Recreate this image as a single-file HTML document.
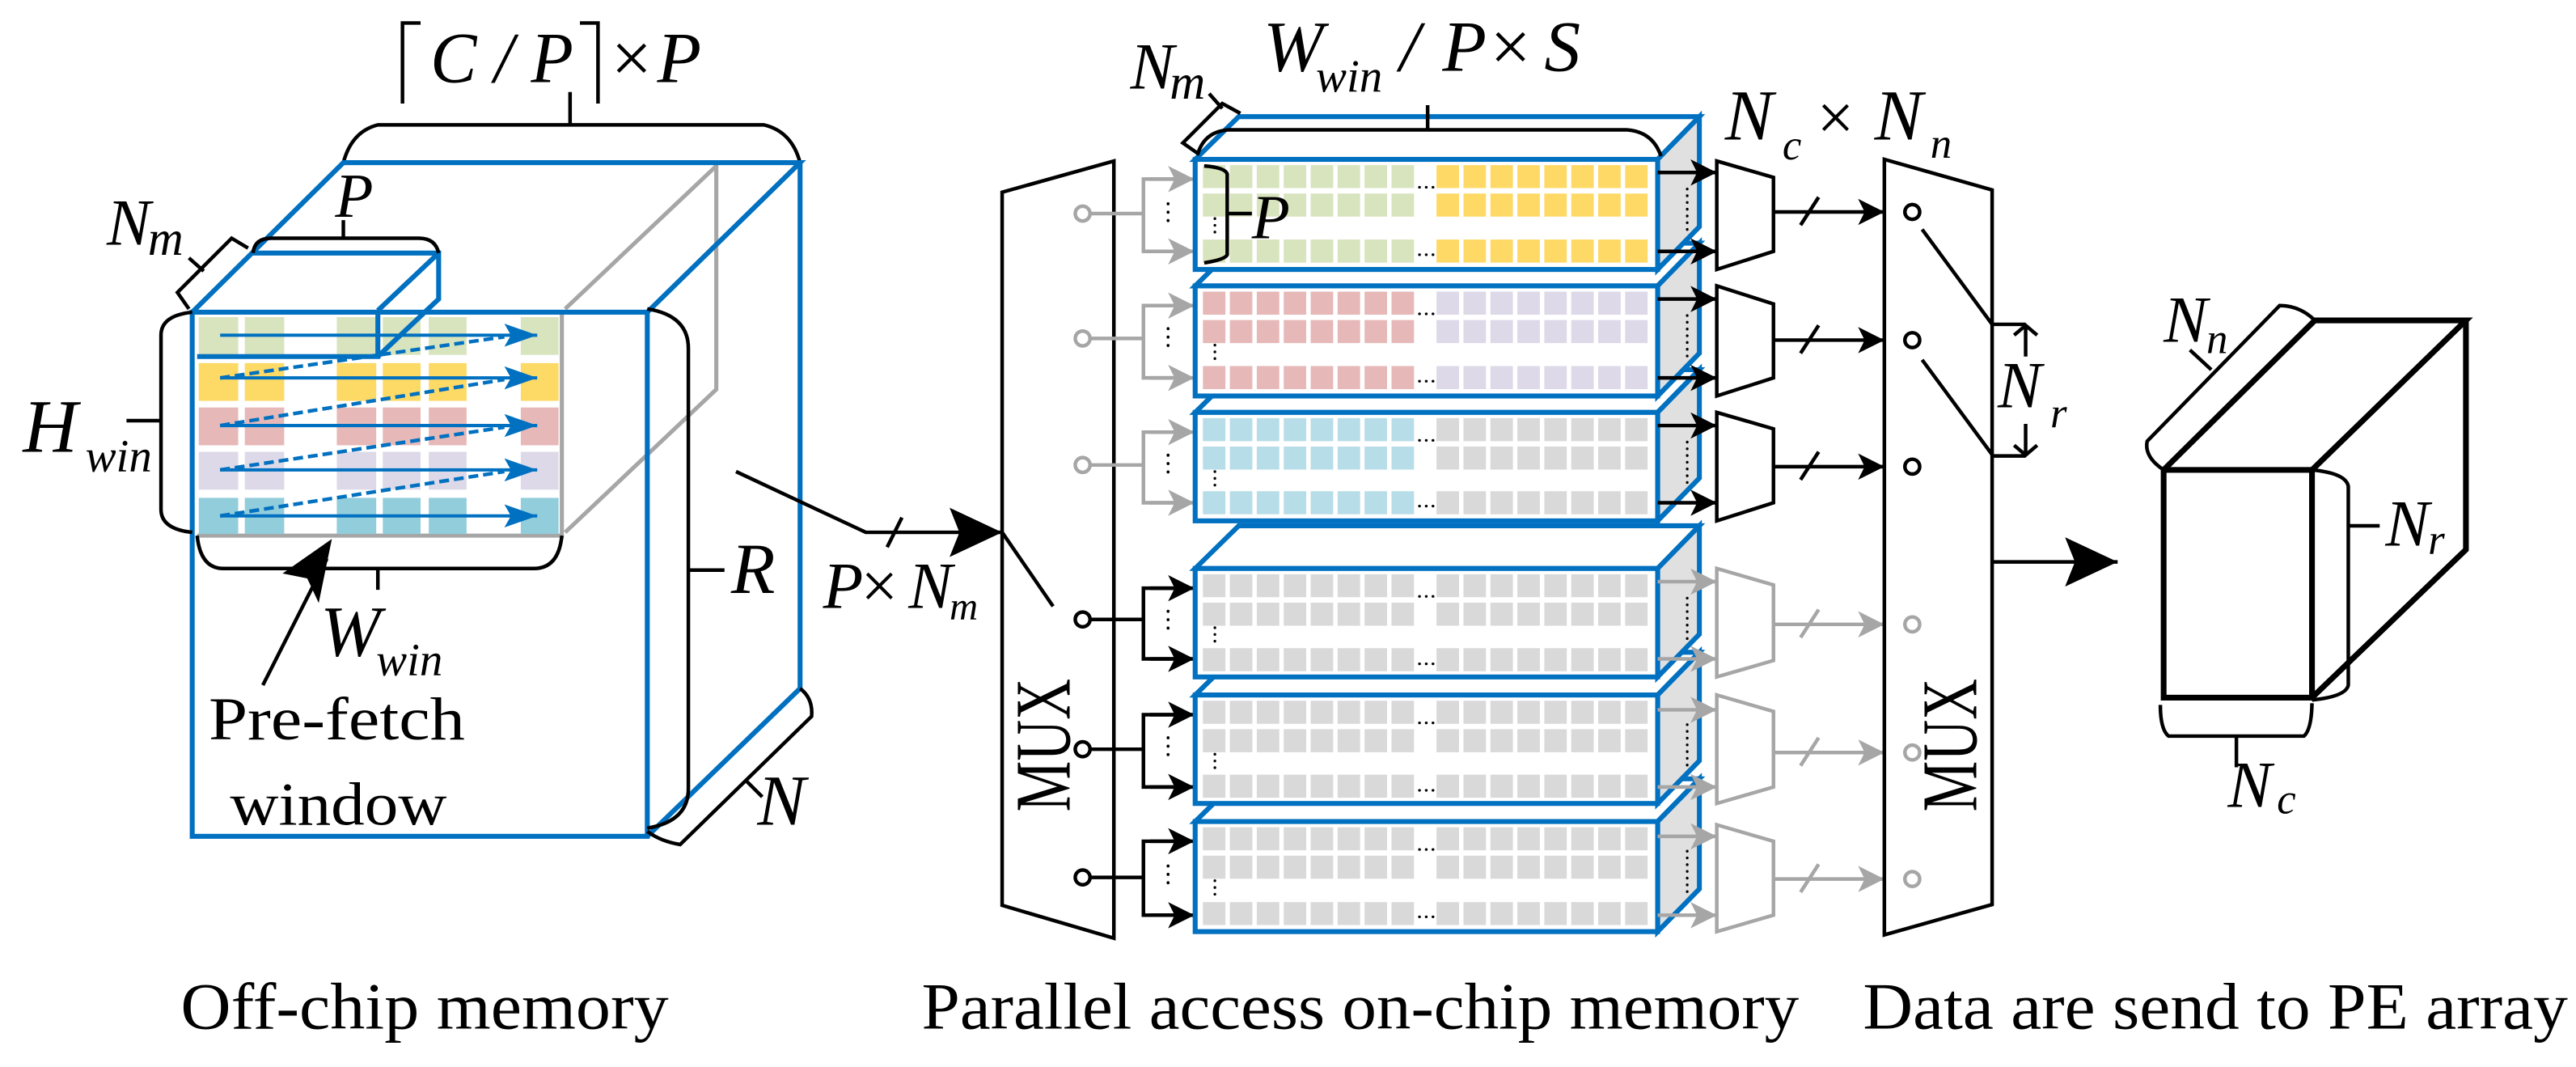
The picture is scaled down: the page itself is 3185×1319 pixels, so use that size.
<!DOCTYPE html>
<html><head><meta charset="utf-8"><style>
html,body{margin:0;padding:0;background:#fff;}
svg{display:block;font-family:"Liberation Serif","Times New Roman",Times,"Nimbus Roman","FreeSerif",serif;}
text{font-family:"Liberation Serif","Times New Roman",Times,"Nimbus Roman","FreeSerif",serif;fill:#000;}
.it{font-style:italic;}
</style></head><body>
<svg width="3185" height="1319" viewBox="0 0 1568 649.4" preserveAspectRatio="none" xmlns="http://www.w3.org/2000/svg" font-family="Liberation Serif, Times New Roman, serif">
<defs>
<marker id="ak" markerUnits="userSpaceOnUse" markerWidth="18" markerHeight="18" refX="16" refY="8" orient="auto"><path d="M0,0 L16,8 L0,16 L4,8z" fill="#000"/></marker>
<marker id="ag" markerUnits="userSpaceOnUse" markerWidth="18" markerHeight="18" refX="16" refY="8" orient="auto"><path d="M0,0 L16,8 L0,16 L4,8z" fill="#a6a6a6"/></marker>
<marker id="ab" markerUnits="userSpaceOnUse" markerWidth="22" markerHeight="14" refX="20" refY="7" orient="auto"><path d="M0,0 L20,7 L0,14 L4,7z" fill="#0070c0"/></marker>
<marker id="abig" markerUnits="userSpaceOnUse" markerWidth="34" markerHeight="30" refX="32" refY="15" orient="auto"><path d="M0,0 L32,15 L0,30 L6,15z" fill="#000"/></marker>
</defs>

<!-- ================= LEFT: off-chip memory ================= -->
<g fill="none" stroke="#000" stroke-width="2.2">
<polyline points="245,63 245,14 256,14"/>
<polyline points="353,14 364,14 364,63"/>
<path d="M347,56 V76 M209,99 Q214,80 230,76 H465 Q482,80 487,99"/>
</g>
<text class="it" x="262" y="50" font-size="44" textLength="87" lengthAdjust="spacingAndGlyphs">C / P</text>
<text x="372" y="50" font-size="44">×</text>
<text class="it" x="400" y="50" font-size="44">P</text>

<g fill="none" stroke="#a6a6a6" stroke-width="2.5">
<polyline points="344,188 436,101 436,237 344,324"/>
<polyline points="120,326 342,326 342,190"/>
</g>

<g>
<g fill="#d7e4bd">
<rect x="121" y="193" width="24" height="23"/><rect x="149" y="193" width="24" height="23"/><rect x="205" y="193" width="24" height="23"/><rect x="233" y="193" width="23" height="23"/><rect x="261" y="193" width="23" height="23"/><rect x="317" y="193" width="23" height="23"/></g>
<g fill="#fdd966">
<rect x="121" y="221" width="24" height="23"/><rect x="149" y="221" width="24" height="23"/><rect x="205" y="221" width="24" height="23"/><rect x="233" y="221" width="23" height="23"/><rect x="261" y="221" width="23" height="23"/><rect x="317" y="221" width="23" height="23"/></g>
<g fill="#e6b9b8">
<rect x="121" y="248" width="24" height="23"/><rect x="149" y="248" width="24" height="23"/><rect x="205" y="248" width="24" height="23"/><rect x="233" y="248" width="23" height="23"/><rect x="261" y="248" width="23" height="23"/><rect x="317" y="248" width="23" height="23"/></g>
<g fill="#ddd9e8">
<rect x="121" y="275" width="24" height="23"/><rect x="149" y="275" width="24" height="23"/><rect x="205" y="275" width="24" height="23"/><rect x="233" y="275" width="23" height="23"/><rect x="261" y="275" width="23" height="23"/><rect x="317" y="275" width="23" height="23"/></g>
<g fill="#92cddc">
<rect x="121" y="303" width="24" height="22"/><rect x="149" y="303" width="24" height="22"/><rect x="205" y="303" width="24" height="22"/><rect x="233" y="303" width="23" height="22"/><rect x="261" y="303" width="23" height="22"/><rect x="317" y="303" width="23" height="22"/></g>
</g>

<g stroke="#0070c0" stroke-width="2" fill="none">
<line x1="134" y1="204" x2="327" y2="204" marker-end="url(#ab)"/>
<line x1="134" y1="230" x2="327" y2="230" marker-end="url(#ab)"/>
<line x1="134" y1="259" x2="327" y2="259" marker-end="url(#ab)"/>
<line x1="134" y1="286" x2="327" y2="286" marker-end="url(#ab)"/>
<line x1="134" y1="314" x2="327" y2="314" marker-end="url(#ab)"/>
<g stroke-dasharray="6 3" stroke-width="2.2">
<line x1="134" y1="230" x2="307" y2="205"/>
<line x1="134" y1="259" x2="307" y2="231"/>
<line x1="134" y1="286" x2="307" y2="260"/>
<line x1="134" y1="314" x2="307" y2="287"/>
</g>
</g>

<g fill="none" stroke="#0070c0" stroke-width="3">
<rect x="117" y="190" width="277" height="319"/>
<polyline points="117,190 209,99 487,99 394,190"/>
<polyline points="487,99 487,419 394,509"/>
<polyline points="120,217 230,217 230,189"/>
<polyline points="154,154 267,154 267,182 230,217"/>
<line x1="230" y1="189" x2="267" y2="154"/>
</g>

<g fill="none" stroke="#000" stroke-width="2.2">
<path d="M115,188 L108,178 L141,145 L151,151"/>
<line x1="115" y1="157" x2="124" y2="165"/>
<path d="M154,154 Q155,145 165,145 H255 Q265,145 267,154 M209,145 V134"/>
<path d="M117,190 Q98,192 98,204 V310 Q98,322 117,324 M77,256 H98"/>
<path d="M120,326 Q122,346 136,346 H325 Q340,346 342,326 M230,346 V359"/>
<path d="M394,188 Q419,192 419,212 V480 Q419,500 394,504 M419,347 H441"/>
<path d="M487,419 Q495,425 494,436 L414,514 Q402,512 394,506 M454,475 L464,485"/>
<polyline points="448,287 527,324 610,324" marker-end="url(#abig)"/>
<line x1="540" y1="333" x2="549" y2="315"/>
</g>
<path d="M160,417 L199,340" stroke="#000" stroke-width="2.2" fill="none"/>
<path d="M202,328 L194,367 L187,352 L172,349z" fill="#000"/>

<text class="it" x="65" y="149" font-size="40">N</text><text class="it" x="90" y="155" font-size="30">m</text>
<text class="it" x="204" y="132" font-size="38">P</text>
<text class="it" x="14" y="275" font-size="46">H</text><text class="it" x="52" y="287" font-size="28">win</text>
<text class="it" x="195" y="399" font-size="44">W</text><text class="it" x="229" y="411" font-size="28">win</text>
<text x="127" y="450" font-size="37" textLength="156" lengthAdjust="spacingAndGlyphs">Pre-fetch</text>
<text x="140" y="502" font-size="37" textLength="132" lengthAdjust="spacingAndGlyphs">window</text>
<text class="it" x="445" y="361" font-size="44">R</text>
<text class="it" x="461" y="502" font-size="44">N</text>
<text class="it" x="501" y="370" font-size="40">P</text><text x="524" y="370" font-size="40">×</text><text class="it" x="553" y="370" font-size="40">N</text><text class="it" x="578" y="377" font-size="24">m</text>
<text x="110" y="626" font-size="40" textLength="297" lengthAdjust="spacingAndGlyphs">Off-chip memory</text>

<!-- ================= MIDDLE ================= -->
<polygon points="610,117 678,98 678,571 610,551" fill="none" stroke="#000" stroke-width="2.2"/>
<line x1="610" y1="324" x2="641" y2="369" stroke="#000" stroke-width="2.2"/>
<text x="0" y="0" font-size="48" transform="translate(651,494) rotate(-90)" textLength="81" lengthAdjust="spacingAndGlyphs">MUX</text>

<g fill="none" stroke-width="2.2">
<g stroke="#a6a6a6">
<circle cx="659" cy="130" r="4.5" fill="#fff"/><line x1="664" y1="130" x2="696" y2="130"/><polyline points="725,109 696,109 696,153 725,153"/>
<line x1="700" y1="109" x2="727" y2="109" marker-end="url(#ag)"/><line x1="700" y1="153" x2="727" y2="153" marker-end="url(#ag)"/>
<circle cx="659" cy="206" r="4.5" fill="#fff"/><line x1="664" y1="206" x2="696" y2="206"/><polyline points="725,186 696,186 696,230 725,230"/>
<line x1="700" y1="186" x2="727" y2="186" marker-end="url(#ag)"/><line x1="700" y1="230" x2="727" y2="230" marker-end="url(#ag)"/>
<circle cx="659" cy="283" r="4.5" fill="#fff"/><line x1="664" y1="283" x2="696" y2="283"/><polyline points="725,263 696,263 696,306 725,306"/>
<line x1="700" y1="263" x2="727" y2="263" marker-end="url(#ag)"/><line x1="700" y1="306" x2="727" y2="306" marker-end="url(#ag)"/>
</g>
<g stroke="#000">
<circle cx="659" cy="377" r="4.5" fill="#fff"/><line x1="664" y1="377" x2="696" y2="377"/><polyline points="725,358 696,358 696,401 725,401"/>
<line x1="700" y1="358" x2="727" y2="358" marker-end="url(#ak)"/><line x1="700" y1="401" x2="727" y2="401" marker-end="url(#ak)"/>
<circle cx="659" cy="456" r="4.5" fill="#fff"/><line x1="664" y1="456" x2="696" y2="456"/><polyline points="725,435 696,435 696,479 725,479"/>
<line x1="700" y1="435" x2="727" y2="435" marker-end="url(#ak)"/><line x1="700" y1="479" x2="727" y2="479" marker-end="url(#ak)"/>
<circle cx="659" cy="534" r="4.5" fill="#fff"/><line x1="664" y1="534" x2="696" y2="534"/><polyline points="725,512 696,512 696,557 725,557"/>
<line x1="700" y1="512" x2="727" y2="512" marker-end="url(#ak)"/><line x1="700" y1="557" x2="727" y2="557" marker-end="url(#ak)"/>
</g>
<g stroke="#000" stroke-width="1.8" stroke-dasharray="0.1 5" stroke-linecap="round">
<line x1="711" y1="124" x2="711" y2="138"/><line x1="711" y1="200" x2="711" y2="214"/><line x1="711" y1="277" x2="711" y2="291"/>
<line x1="711" y1="372" x2="711" y2="386"/><line x1="711" y1="449" x2="711" y2="463"/><line x1="711" y1="527" x2="711" y2="541"/>
</g>
</g>

<g stroke="#0070c0" stroke-width="3">
<g>
<polygon points="727.5,500 754,474 1034.4,474 1009,500" fill="#fff"/>
<polygon points="1009,500 1034.4,474 1034.4,541 1009,567" fill="#e0e0e0"/>
<rect x="727.5" y="500" width="281.5" height="67" fill="#fff"/>
</g>
<g>
<polygon points="727.5,423 754,397 1034.4,397 1009,423" fill="#fff"/>
<polygon points="1009,423 1034.4,397 1034.4,463 1009,489" fill="#e0e0e0"/>
<rect x="727.5" y="423" width="281.5" height="66" fill="#fff"/>
</g>
<g>
<polygon points="727.5,346 754,320 1034.4,320 1009,346" fill="#fff"/>
<polygon points="1009,346 1034.4,320 1034.4,386 1009,412" fill="#e0e0e0"/>
<rect x="727.5" y="346" width="281.5" height="66" fill="#fff"/>
</g>
<g>
<polygon points="727.5,251 754,225 1034.4,225 1009,251" fill="#fff"/>
<polygon points="1009,251 1034.4,225 1034.4,291 1009,317" fill="#e0e0e0"/>
<rect x="727.5" y="251" width="281.5" height="66" fill="#fff"/>
</g>
<g>
<polygon points="727.5,174 754,148 1034.4,148 1009,174" fill="#fff"/>
<polygon points="1009,174 1034.4,148 1034.4,215 1009,241" fill="#e0e0e0"/>
<rect x="727.5" y="174" width="281.5" height="67" fill="#fff"/>
</g>
<g>
<polygon points="727.5,97 754,71 1034.4,71 1009,97" fill="#fff"/>
<polygon points="1009,97 1034.4,71 1034.4,138 1009,164" fill="#e0e0e0"/>
<rect x="727.5" y="97" width="281.5" height="67" fill="#fff"/>
</g>
</g>

<g stroke-width="14" stroke-dasharray="13.7 2.7" fill="none">
<g><line x1="732.2" x2="863" y1="107.5" y2="107.5" stroke="#d7e4bd"/><line x1="732.2" x2="863" y1="124.8" y2="124.8" stroke="#d7e4bd"/><line x1="732.2" x2="863" y1="152.8" y2="152.8" stroke="#d7e4bd"/>
<line x1="874.4" x2="1005" y1="107.5" y2="107.5" stroke="#ffd966"/><line x1="874.4" x2="1005" y1="124.8" y2="124.8" stroke="#ffd966"/><line x1="874.4" x2="1005" y1="152.8" y2="152.8" stroke="#ffd966"/></g>
<g><line x1="732.2" x2="863" y1="184.5" y2="184.5" stroke="#e6b9b8"/><line x1="732.2" x2="863" y1="201.8" y2="201.8" stroke="#e6b9b8"/><line x1="732.2" x2="863" y1="229.8" y2="229.8" stroke="#e6b9b8"/>
<line x1="874.4" x2="1005" y1="184.5" y2="184.5" stroke="#ddd9e8"/><line x1="874.4" x2="1005" y1="201.8" y2="201.8" stroke="#ddd9e8"/><line x1="874.4" x2="1005" y1="229.8" y2="229.8" stroke="#ddd9e8"/></g>
<g><line x1="732.2" x2="863" y1="261.5" y2="261.5" stroke="#b7dde8"/><line x1="732.2" x2="863" y1="278.8" y2="278.8" stroke="#b7dde8"/><line x1="732.2" x2="863" y1="306" y2="306" stroke="#b7dde8"/>
<line x1="874.4" x2="1005" y1="261.5" y2="261.5" stroke="#d9d9d9"/><line x1="874.4" x2="1005" y1="278.8" y2="278.8" stroke="#d9d9d9"/><line x1="874.4" x2="1005" y1="306" y2="306" stroke="#d9d9d9"/></g>
<g stroke="#d9d9d9">
<line x1="732.2" x2="863" y1="356.5" y2="356.5"/><line x1="732.2" x2="863" y1="373.8" y2="373.8"/><line x1="732.2" x2="863" y1="401.5" y2="401.5"/>
<line x1="874.4" x2="1005" y1="356.5" y2="356.5"/><line x1="874.4" x2="1005" y1="373.8" y2="373.8"/><line x1="874.4" x2="1005" y1="401.5" y2="401.5"/>
<line x1="732.2" x2="863" y1="433.5" y2="433.5"/><line x1="732.2" x2="863" y1="450.8" y2="450.8"/><line x1="732.2" x2="863" y1="478.5" y2="478.5"/>
<line x1="874.4" x2="1005" y1="433.5" y2="433.5"/><line x1="874.4" x2="1005" y1="450.8" y2="450.8"/><line x1="874.4" x2="1005" y1="478.5" y2="478.5"/>
<line x1="732.2" x2="863" y1="510.5" y2="510.5"/><line x1="732.2" x2="863" y1="527.8" y2="527.8"/><line x1="732.2" x2="863" y1="556" y2="556"/>
<line x1="874.4" x2="1005" y1="510.5" y2="510.5"/><line x1="874.4" x2="1005" y1="527.8" y2="527.8"/><line x1="874.4" x2="1005" y1="556" y2="556"/>
</g>
</g>

<g stroke="#000" stroke-width="1.6" stroke-dasharray="0.1 4" stroke-linecap="round" fill="none">
<line x1="864" x2="874" y1="114" y2="114"/><line x1="864" x2="874" y1="155" y2="155"/>
<line x1="864" x2="874" y1="191" y2="191"/><line x1="864" x2="874" y1="232" y2="232"/>
<line x1="864" x2="874" y1="268" y2="268"/><line x1="864" x2="874" y1="308" y2="308"/>
<line x1="864" x2="874" y1="363" y2="363"/><line x1="864" x2="874" y1="404" y2="404"/>
<line x1="864" x2="874" y1="440" y2="440"/><line x1="864" x2="874" y1="481" y2="481"/>
<line x1="864" x2="874" y1="517" y2="517"/><line x1="864" x2="874" y1="558" y2="558"/>
<line x1="739.5" x2="739.5" y1="133" y2="145"/><line x1="739.5" x2="739.5" y1="210" y2="222"/><line x1="739.5" x2="739.5" y1="287" y2="299"/>
<line x1="739.5" x2="739.5" y1="382" y2="394"/><line x1="739.5" x2="739.5" y1="459" y2="471"/><line x1="739.5" x2="739.5" y1="536" y2="548"/>
<line x1="1027" x2="1027" y1="115" y2="140"/><line x1="1027" x2="1027" y1="192" y2="217"/><line x1="1027" x2="1027" y1="269" y2="294"/>
<line x1="1027" x2="1027" y1="364" y2="389"/><line x1="1027" x2="1027" y1="441" y2="466"/><line x1="1027" x2="1027" y1="518" y2="543"/>
</g>

<g fill="none" stroke="#000" stroke-width="2.2">
<path d="M733,101 Q746,102 747,106 V155 Q746,158 733,160 M747,130 H762"/>
<path d="M729,94 Q733,80 748,79 H990 Q1006,80 1011,95 M869,79 V64"/>
<path d="M730,94 L720,87 L744,63 L755,69 M736,57 L744,66"/>
</g>
<text class="it" x="762" y="145" font-size="38">P</text>
<text class="it" x="688" y="54" font-size="40">N</text><text class="it" x="712" y="60" font-size="30">m</text>
<text class="it" x="769" y="43" font-size="44">W</text><text class="it" x="801" y="56" font-size="28">win</text>
<text x="852" y="43" font-size="44" class="it">/</text><text class="it" x="878" y="43" font-size="44">P</text><text x="907" y="43" font-size="44">×</text><text class="it" x="940" y="43" font-size="44">S</text>
<text x="561" y="626" font-size="40" textLength="534" lengthAdjust="spacingAndGlyphs">Parallel access on-chip memory</text>

<g stroke-width="2.2" fill="none">
<g stroke="#000">
<line x1="1009" y1="105" x2="1045" y2="105" marker-end="url(#ak)"/><line x1="1009" y1="153" x2="1045" y2="153" marker-end="url(#ak)"/>
<line x1="1009" y1="182" x2="1045" y2="182" marker-end="url(#ak)"/><line x1="1009" y1="230" x2="1045" y2="230" marker-end="url(#ak)"/>
<line x1="1009" y1="259" x2="1045" y2="259" marker-end="url(#ak)"/><line x1="1009" y1="306" x2="1045" y2="306" marker-end="url(#ak)"/>
<polygon points="1045,98 1079.5,108 1079.5,153 1045,164"/>
<polygon points="1045,174 1079.5,185 1079.5,230 1045,241"/>
<polygon points="1045,251 1079.5,261 1079.5,306 1045,317"/>
<line x1="1079.5" y1="129" x2="1147" y2="129" marker-end="url(#ak)"/><line x1="1096" y1="137" x2="1107" y2="120"/>
<line x1="1079.5" y1="207" x2="1147" y2="207" marker-end="url(#ak)"/><line x1="1096" y1="215" x2="1107" y2="198"/>
<line x1="1079.5" y1="284" x2="1147" y2="284" marker-end="url(#ak)"/><line x1="1096" y1="292" x2="1107" y2="275"/>
</g>
<g stroke="#a6a6a6">
<line x1="1009" y1="354" x2="1045" y2="354" marker-end="url(#ag)"/><line x1="1009" y1="401" x2="1045" y2="401" marker-end="url(#ag)"/>
<line x1="1009" y1="432" x2="1045" y2="432" marker-end="url(#ag)"/><line x1="1009" y1="479" x2="1045" y2="479" marker-end="url(#ag)"/>
<line x1="1009" y1="509" x2="1045" y2="509" marker-end="url(#ag)"/><line x1="1009" y1="557" x2="1045" y2="557" marker-end="url(#ag)"/>
<polygon points="1045,346 1079.5,356 1079.5,402 1045,412"/>
<polygon points="1045,423 1079.5,433 1079.5,479 1045,489"/>
<polygon points="1045,502 1079.5,512 1079.5,557 1045,567"/>
<line x1="1079.5" y1="380" x2="1147" y2="380" marker-end="url(#ag)"/><line x1="1096" y1="388" x2="1107" y2="371"/>
<line x1="1079.5" y1="458" x2="1147" y2="458" marker-end="url(#ag)"/><line x1="1096" y1="466" x2="1107" y2="449"/>
<line x1="1079.5" y1="535" x2="1147" y2="535" marker-end="url(#ag)"/><line x1="1096" y1="543" x2="1107" y2="526"/>
</g>
</g>

<!-- ================= RIGHT ================= -->
<text class="it" x="1050" y="85" font-size="44">N</text><text class="it" x="1085" y="97" font-size="26">c</text>
<text x="1106" y="85" font-size="40">×</text>
<text class="it" x="1141" y="85" font-size="44">N</text><text class="it" x="1175" y="96" font-size="26">n</text>

<g fill="none" stroke="#000" stroke-width="2.2">
<polygon points="1147,97 1212.6,115.6 1212.6,550.5 1147,569"/>
<circle cx="1164" cy="129" r="4.5" fill="#fff"/>
<circle cx="1164" cy="207" r="4.5" fill="#fff"/>
<circle cx="1164" cy="284" r="4.5" fill="#fff"/>
<line x1="1170" y1="139.6" x2="1212.6" y2="197.4"/>
<line x1="1170" y1="219" x2="1212.6" y2="276.7"/>
<polyline points="1212.6,197.4 1233,197.4"/>
<polyline points="1212.6,277.5 1233,277.5"/>
<path d="M1233,198 V217 M1226,204 L1233,198 L1240,204"/>
<path d="M1233,258 V277 M1226,271 L1233,277 L1240,271"/>
<line x1="1212.6" y1="342" x2="1289" y2="342" marker-end="url(#abig)"/>
</g>
<g fill="#fff" stroke="#a6a6a6" stroke-width="2.2">
<circle cx="1164" cy="380" r="4.5"/><circle cx="1164" cy="458" r="4.5"/><circle cx="1164" cy="535" r="4.5"/>
</g>
<text x="0" y="0" font-size="48" transform="translate(1203,494) rotate(-90)" textLength="81" lengthAdjust="spacingAndGlyphs">MUX</text>
<text class="it" x="1216" y="248" font-size="40">N</text><text class="it" x="1248" y="260" font-size="26">r</text>

<g fill="none" stroke="#000" stroke-width="3.5">
<rect x="1317" y="286" width="90.3" height="138.6"/>
<polyline points="1317,286 1409,195 1501,195 1407.3,286"/>
<polyline points="1501,195 1501,334.5 1407.3,424.6"/>
</g>
<g fill="none" stroke="#000" stroke-width="2.2">
<path d="M1317,286 Q1305,278 1307,268.5 L1387.6,186 Q1400,186 1409,195 M1333,213 L1346,225"/>
<path d="M1407.3,286 Q1428,288 1429.4,296 V417 Q1428,424 1407.3,426 M1429.4,320 H1448.5"/>
<path d="M1315,429 Q1315,444 1320,448 H1402.4 Q1407,444 1407.3,428 M1361.3,448 V467"/>
</g>
<text class="it" x="1317" y="208" font-size="40">N</text><text class="it" x="1343" y="215" font-size="26">n</text>
<text class="it" x="1452" y="332" font-size="40">N</text><text class="it" x="1478" y="337" font-size="26">r</text>
<text class="it" x="1356" y="491" font-size="40">N</text><text class="it" x="1386" y="495" font-size="26">c</text>
<text x="1134" y="626" font-size="40" textLength="429" lengthAdjust="spacingAndGlyphs">Data are send to PE array</text>
</svg>
</body></html>
